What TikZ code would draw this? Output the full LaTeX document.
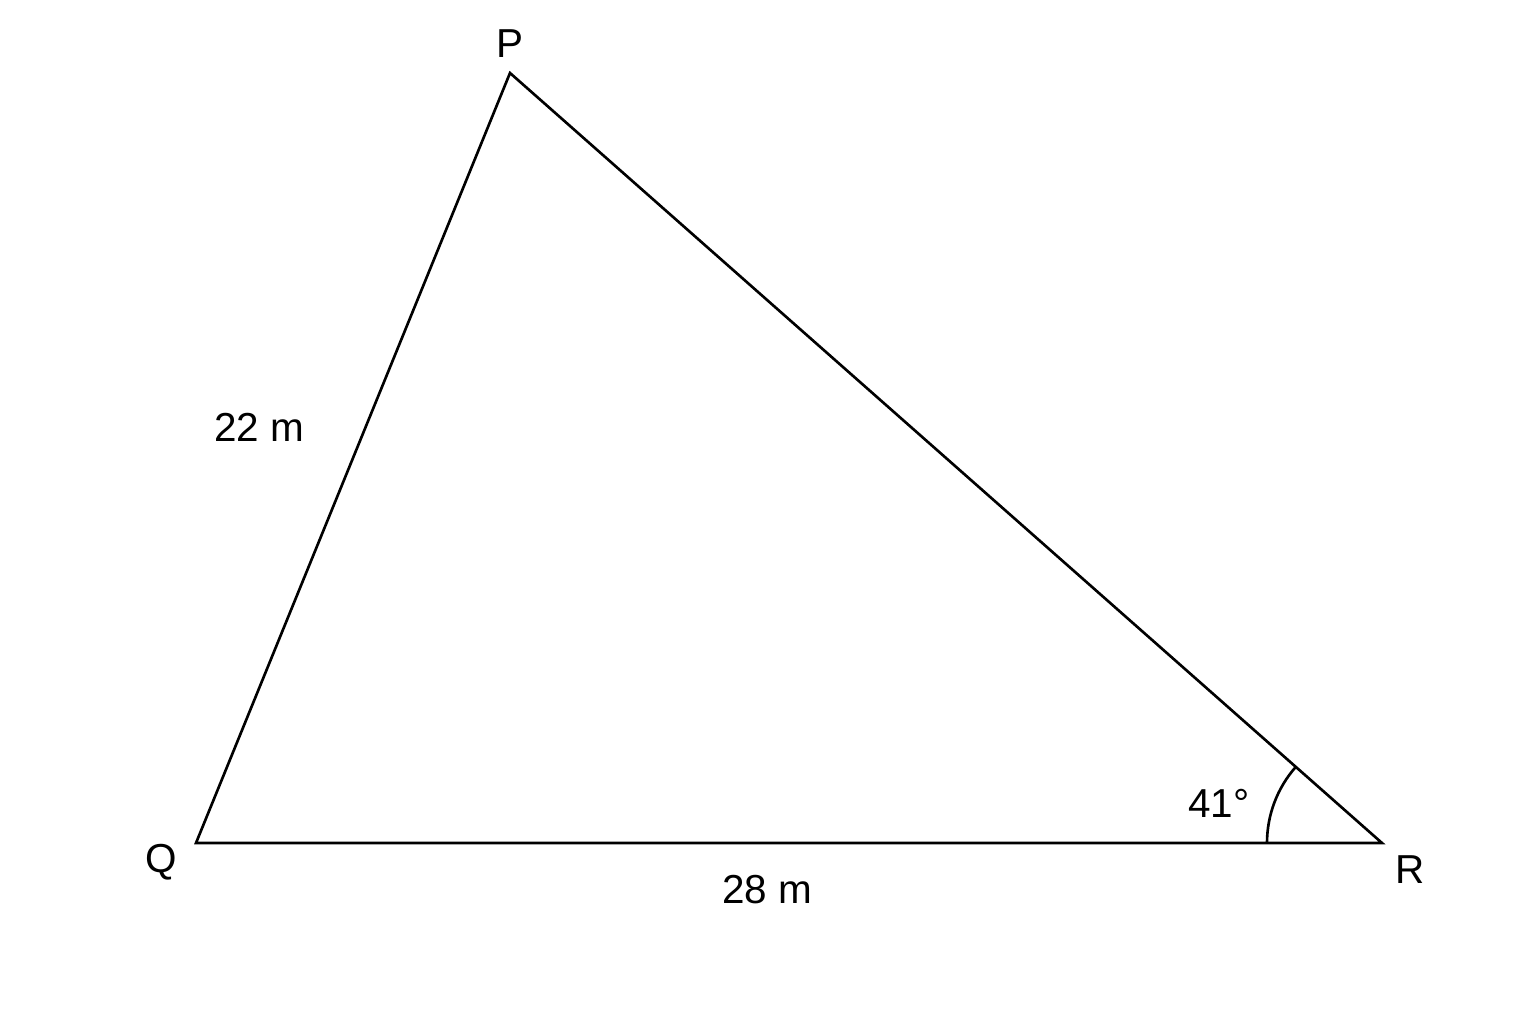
\documentclass[tikz,border=0pt]{standalone}
\usepackage{fontspec}
\setmainfont{Liberation Sans}
\usetikzlibrary{calc}
\begin{document}
\begin{tikzpicture}[x=0.01cm,y=-0.01cm,
  lbl/.style={font=\fontsize{11.5}{13}\selectfont, inner sep=0pt},
  edge/.style={line width=0.75pt, line join=miter}]
\useasboundingbox (0,0) rectangle (1536,1024);
\coordinate (P) at (510,73);
\coordinate (Q) at (196,843);
\coordinate (R) at (1382,843);
\draw[edge] (P) -- (Q) -- (R) -- cycle;
\draw[edge] ($(R)+(-115,0)$) arc[start angle=180, end angle=138.5, radius=1.15cm];
\node[lbl] (lP) at (510,44) {P};
\node[lbl] (lQ) at (161,862) {Q};
\node[lbl] (lR) at (1410,870) {R};
\node[lbl] (lPQ) at (259,427) {22 m};
\node[lbl] (lQR) at (767,890) {28 m};
\node[lbl] (lA) at (1219,803) {41°};
\end{tikzpicture}
\end{document}
